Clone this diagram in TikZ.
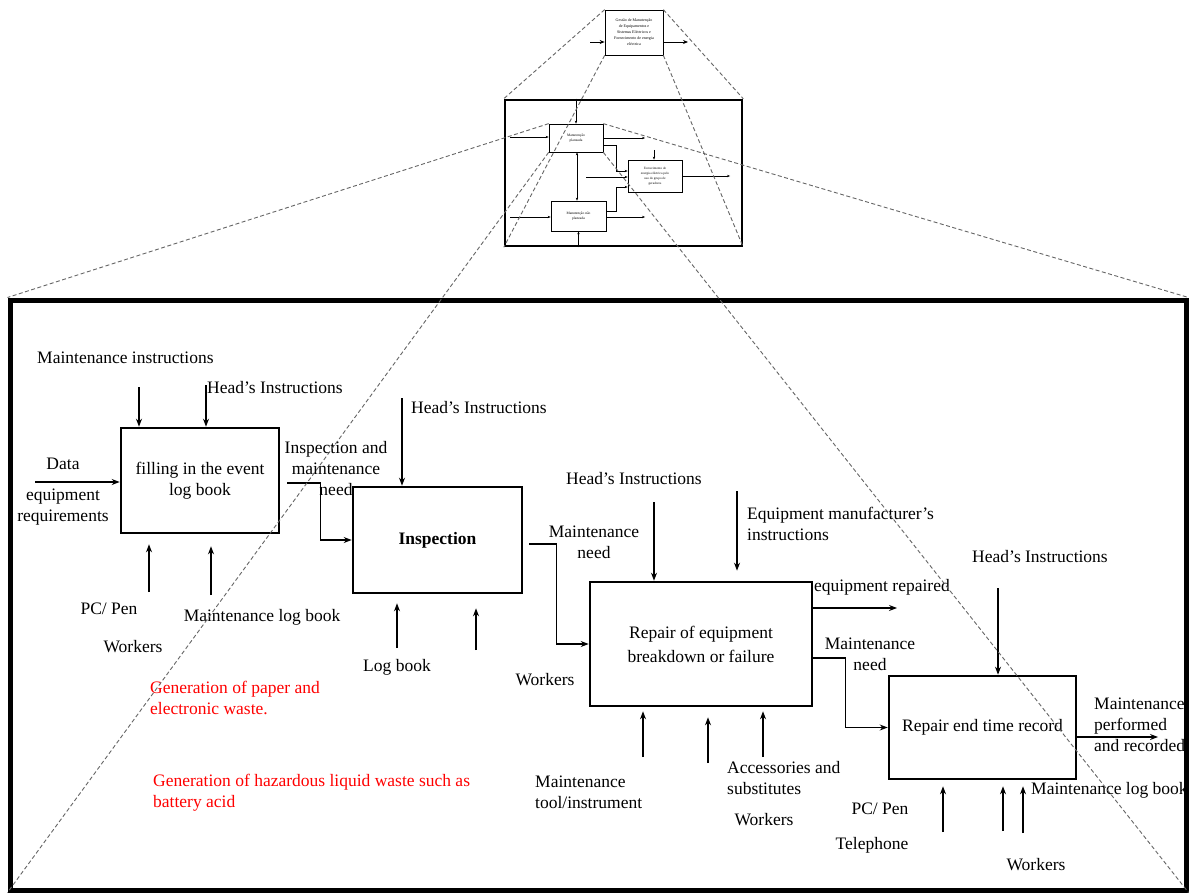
\documentclass[tikz,border=0pt]{standalone}
\usepackage{fontspec}
\setmainfont{Liberation Serif}
\usetikzlibrary{arrows.meta,calc}
\definecolor{wastered}{RGB}{255,0,0}
\begin{document}
\begin{tikzpicture}[x=1pt,y=-1pt,
  lbl/.style={font=\fontsize{17.5}{21}\selectfont, inner sep=0pt, align=center},
  wastelbl/.style={lbl, align=left, text=wastered, anchor=west},
  proc/.style={draw, line width=2.6pt, inner sep=2pt, align=center, font=\fontsize{17.5}{24}\selectfont},
  arr/.style={line width=1.2pt, -{Stealth[length=8pt,width=6pt]}},
  zoomline/.style={draw=gray!80!black, line width=0.9pt, dash pattern=on 4pt off 2.5pt},
  tinybox/.style={draw, line width=0.7pt, align=center, inner sep=0.5pt},
  sarr/.style={line width=0.5pt, -{Stealth[length=3pt,width=2.4pt]}}
]
\useasboundingbox (0,0) rectangle (1190,893);
\fill[white] (0,0) rectangle (1190,893);

% ---------- top level box ----------
\node[tinybox, minimum width=58pt, minimum height=45pt, font=\fontsize{4}{6}\selectfont] (T) at (634,32.5)
  {Gestão de Manutenção\\de Equipamentos e\\Sistemas Eléctricos e\\Fornecimento de energia\\eléctrica};
\coordinate (tin) at (590,42);
\coordinate (tout) at (688,42);
\draw[line width=0.9pt, -{Stealth[length=5pt,width=4pt]}] (tin) -- (tin -| T.west);
\draw[line width=0.9pt, -{Stealth[length=5pt,width=4pt]}] (tout -| T.east) -- (tout);

% ---------- middle level box ----------
\node[draw, line width=2.5pt, minimum width=237pt, minimum height=146pt] (M) at (623.5,173) {};
\node[tinybox, minimum width=54pt, minimum height=28pt, font=\fontsize{3.6}{5}\selectfont] (m1) at (576,138) {Manutenção\\planeada};
\node[tinybox, minimum width=54pt, minimum height=32pt, font=\fontsize{3.3}{5}\selectfont] (m2) at (655,176) {Fornecimento de\\energia eléctrica pelo\\uso do grupo de\\geradores};
\node[tinybox, minimum width=55pt, minimum height=30pt, font=\fontsize{3.6}{5}\selectfont] (m3) at (578.5,216) {Manutenção não\\planeada};

\coordinate (i1) at (510,137);
\draw[sarr] (i1) -- (i1 -| m1.west);
\draw[sarr] (m1.north |- M.north) -- (m1.north);
\coordinate (o1) at (645,138);
\draw[sarr] (m1.east) -- (o1);
\draw[sarr] ($(m1.east)+(0,7)$) -- (616,145) |- ($(m2.west)+(0,-5)$);
\coordinate (c2) at (654,150);
\draw[sarr] (c2) -- (c2 |- m2.north);
\coordinate (i2) at (586,177);
\draw[sarr] (i2) -- (i2 -| m2.west);
\draw[sarr] ($(m3.east)+(0,-5)$) -- (616,211) |- ($(m2.west)+(0,11)$);
\coordinate (o2) at (730,176);
\draw[sarr] (m2.east) -- (o2);
\coordinate (i3) at (510,217);
\draw[sarr] (i3) -- (i3 -| m3.west);
\coordinate (o3) at (645,217);
\draw[sarr] (o3 -| m3.east) -- (o3);
\draw[sarr] (m3.south |- M.south) -- (m3.south);
\coordinate (mid) at (577,177);
\draw[sarr] (mid) -- (mid |- m1.south);
\draw[sarr] (mid) -- (mid |- m3.north);

% ---------- big box ----------
\node[draw, line width=5pt, minimum width=1176pt, minimum height=590pt] (Big) at (598,595) {};

% ---------- Box A ----------
\node[proc, minimum width=158pt, minimum height=105pt, font=\fontsize{17.5}{21}\selectfont] (A) at (200,480.5) {filling in the event\\log book};
\node[lbl, anchor=west] (miA) at (37,358) {Maintenance instructions};
\coordinate (aA1) at (139,387);
\draw[arr] (aA1) -- (aA1 |- A.north);
\node[lbl, anchor=west] (hiA) at (207,388) {Head’s Instructions};
\coordinate (aA2) at (206,385);
\draw[arr] (aA2) -- (aA2 |- A.north);
\node[lbl] (dataA) at (63,464) {Data};
\coordinate (iA) at (35,482);
\draw[arr] (iA) -- (iA -| A.west);
\node[lbl] (eqA) at (63,507) {equipment\\requirements};
\coordinate (mA1) at (149,592);
\draw[arr, shorten >=10pt] (mA1) -- (mA1 |- A.south);
\coordinate (mA2) at (211,595);
\draw[arr, shorten >=12pt] (mA2) -- (mA2 |- A.south);
\node[lbl] (pcA) at (109,609) {PC/ Pen};
\node[lbl] (mlbA) at (262,617) {Maintenance log book};
\node[lbl] (wA) at (133,647) {Workers};
\node[wastelbl] (w1) at (150,698) {Generation of paper and\\electronic waste.};
\node[wastelbl] (w2) at (153,793) {Generation of hazardous liquid waste such as\\battery acid};

% ---------- Box B ----------
\node[proc, minimum width=169pt, minimum height=106pt, font=\fontsize{17.5}{21}\selectfont\bfseries] (B) at (437.5,540) {Inspection};
\draw[arr] ($(A.east)+(7,2.5)$) -- ++(33,0) |- (B.west);
\node[lbl] (lAB) at (336,469) {Inspection and\\maintenance\\need};
\node[lbl, anchor=west] (hiB) at (411,408) {Head’s Instructions};
\coordinate (cB) at (402,398);
\draw[arr] (cB) -- (cB |- B.north);
\coordinate (mB1) at (397,648);
\draw[arr, shorten >=9pt] (mB1) -- (mB1 |- B.south);
\coordinate (mB2) at (476,650);
\draw[arr, shorten >=14pt] (mB2) -- (mB2 |- B.south);
\node[lbl] (lbB) at (397,667) {Log book};

% ---------- Box C ----------
\node[proc, minimum width=222pt, minimum height=124pt] (C) at (701,644) {Repair of equipment\\breakdown or failure};
\draw[arr] ($(B.east)+(6,4)$) -- ++(27,0) |- (C.west);
\node[lbl] (lBC) at (594,542.5) {Maintenance\\need};
\node[lbl] (hiC) at (634,479) {Head’s Instructions};
\coordinate (cC1) at (654,502);
\draw[arr] (cC1) -- (cC1 |- C.north);
\coordinate (cC2) at (737,491);
\draw[arr, shorten >=10pt] (cC2) -- (cC2 |- C.north);
\node[lbl, anchor=west, align=left] (emC) at (747,523.5) {Equipment manufacturer’s\\instructions};
\coordinate (oC1) at (897,608);
\draw[arr] (oC1 -| C.east) -- (oC1);
\node[lbl, anchor=west] (erC) at (814,587) {equipment repaired};
\node[lbl] (wC1) at (545,680) {Workers};
\coordinate (mC1) at (643,757);
\draw[arr, shorten >=4pt] (mC1) -- (mC1 |- C.south);
\coordinate (mC2) at (708,763);
\draw[arr, shorten >=10pt] (mC2) -- (mC2 |- C.south);
\coordinate (mC3) at (763,757);
\draw[arr, shorten >=4pt] (mC3) -- (mC3 |- C.south);
\node[lbl, anchor=west, align=left] (mtC) at (535,792.5) {Maintenance\\tool/instrument};
\node[lbl, anchor=west, align=left] (asC) at (727,778) {Accessories and\\substitutes};
\node[lbl] (wC2) at (764,820) {Workers};

% ---------- Box D ----------
\node[proc, minimum width=187pt, minimum height=103pt] (D) at (982.5,727.5) {Repair end time record};
\draw[arr] ($(C.east)+(0,14)$) -- ++(32,0) |- (D.west);
\node[lbl] (lCD) at (870,654.5) {Maintenance\\need};
\node[lbl] (hiD) at (1040,557) {Head’s Instructions};
\coordinate (cD) at (998,588);
\draw[arr] (cD) -- (cD |- D.north);
\coordinate (oD) at (1158,737);
\draw[arr] (oD -| D.east) -- (oD);
\node[lbl, anchor=west, align=left] (mpD) at (1094,725) {Maintenance\\performed\\and recorded};
\coordinate (mD1) at (943,832);
\draw[arr, shorten >=6pt] (mD1) -- (mD1 |- D.south);
\coordinate (mD2) at (1003,831);
\draw[arr, shorten >=6pt] (mD2) -- (mD2 |- D.south);
\coordinate (mD3) at (1023,833);
\draw[arr, shorten >=6pt] (mD3) -- (mD3 |- D.south);
\node[lbl, anchor=west] (mlbD) at (1031,790) {Maintenance log book};
\node[lbl] (pcD) at (880,809) {PC/ Pen};
\node[lbl] (telD) at (872,845) {Telephone};
\node[lbl] (wD) at (1036,865) {Workers};

% ---------- zoom lines ----------
\draw[zoomline] (T.north west) -- (M.north west);
\draw[zoomline] (T.north east) -- (M.north east);
\draw[zoomline] (T.south west) -- (M.south west);
\draw[zoomline] (T.south east) -- (M.south east);
\draw[zoomline] (m1.north west) -- (Big.north west);
\draw[zoomline] (m1.north east) -- (Big.north east);
\draw[zoomline] (m1.south west) -- (Big.south west);
\draw[zoomline] (m1.south east) -- (Big.south east);
\end{tikzpicture}
\end{document}
